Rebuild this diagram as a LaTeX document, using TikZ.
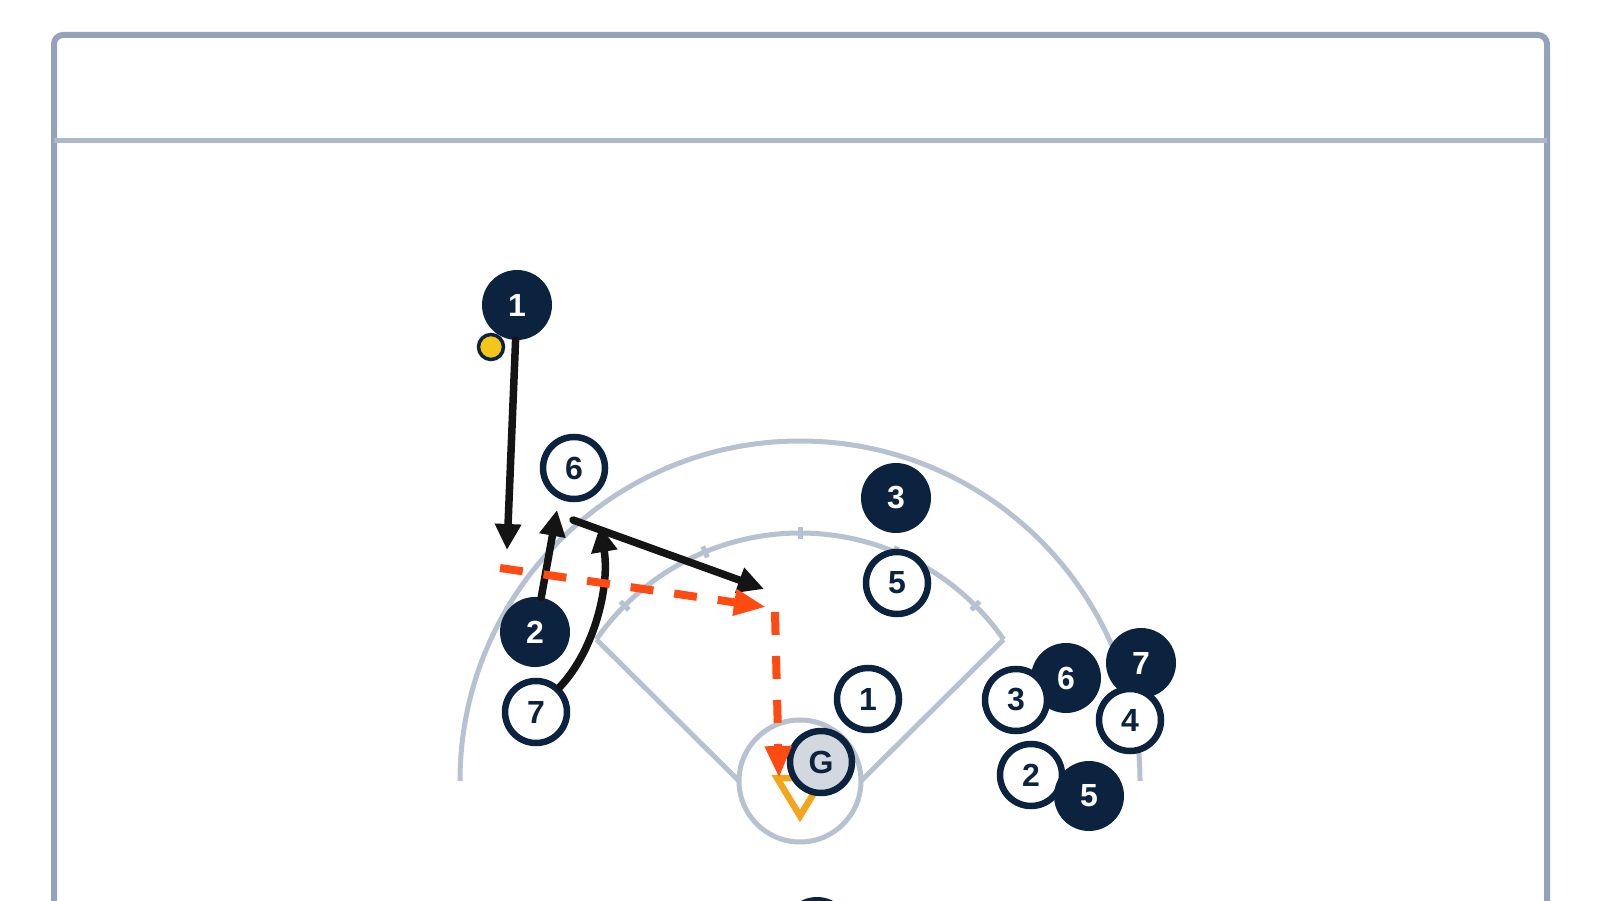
\documentclass[tikz,border=0pt]{standalone}
\usepackage{fontspec}
\setmainfont{Liberation Sans}
\usetikzlibrary{arrows.meta}
\definecolor{navy}{HTML}{0C2340}
\definecolor{framecol}{HTML}{94A3BA}
\definecolor{headcol}{HTML}{AAB8CB}
\definecolor{fieldcol}{HTML}{B6C2D2}
\definecolor{runorange}{HTML}{FF4A12}
\definecolor{platecol}{HTML}{F4A51C}
\definecolor{ballyellow}{HTML}{F5C518}
\definecolor{gfill}{HTML}{D3D7DE}
\definecolor{ink}{HTML}{141414}
\begin{document}
\begin{tikzpicture}[x=1pt,y=1pt,
  numfont/.style={font=\fontsize{32}{32}\selectfont\bfseries},
  dark/.style={circle,fill=navy,minimum size=70pt,inner sep=0pt,text=white,numfont},
  light/.style={circle,draw=navy,line width=6.5pt,fill=white,minimum size=62pt,inner sep=0pt,text=navy,numfont},
  goalie/.style={light,fill=gfill},
  move/.style={draw=ink,line width=7.5pt,line cap=round,-{Triangle[length=26pt,width=25pt]}},
  run/.style={draw=runorange,line width=8pt,dash pattern=on 23pt off 21pt,-{Triangle[length=32pt,width=25pt]}},
  fieldline/.style={draw=fieldcol,line width=5pt},
]
\useasboundingbox (0,0) rectangle (1600,900);
\clip (0,0) rectangle (1600,900);
\fill[white] (0,0) rectangle (1600,900);

% frame
\draw[framecol,line width=6pt,rounded corners=9pt] (54,-30) -- (54,865) -- (1547,865) -- (1547,-30);
\draw[headcol,line width=5pt] (54,759.5) -- (1547,759.5);

% field
\draw[fieldline] (460,119) arc[start angle=180,end angle=0,radius=340];
\draw[fieldline] (800,119) ++(145.2:248) arc[start angle=145.2,end angle=34.8,radius=248];
\draw[fieldline] (800,119) ++(145.2:248) -- (739,119);
\draw[fieldline] (800,119) ++(34.8:248) -- (861,119);
\foreach \a in {45,67.5,90,112.5,135}
  \draw[fieldline] (800,119) ++(\a:242) -- ++(\a:12);
\draw[fieldline] (800,119) circle[radius=61];
\draw[platecol,line width=6.5pt,line join=miter] (777,122) -- (823,122) -- (800,84) -- cycle;

% players
\node[dark] (d1) at (517,595) {1};
\node[dark] (d2) at (535,268) {2};
\node[dark] (d3) at (896,402) {3};
\node[dark] (d6) at (1066,222) {6};
\node[dark] (d7) at (1141,237) {7};
\node[light] (w6) at (574,432) {6};
\node[light] (w7) at (536,188) {7};
\node[light] (w5) at (897,317) {5};
\node[light] (w1) at (868,201) {1};
\node[light] (w3) at (1016,200) {3};
\node[light] (w4) at (1130,180) {4};
\node[light] (w2) at (1031,125) {2};
\node[dark] (d5) at (1089,104) {5};
\node[dark] (d8) at (817,-32) {};
\node[goalie] (g) at (821,138) {G};
\node[circle,draw=navy,line width=3.5pt,fill=ballyellow,minimum size=25pt,inner sep=0pt] (ball) at (491,553) {};

% movement
\coordinate (e1) at (507,350);
\coordinate (e2) at (557,390);
\coordinate (e3) at (600,374);
\coordinate (s4) at (573,380);
\coordinate (e4) at (764,311);
\coordinate (r1s) at (500,332);
\coordinate (r1e) at (766,293);
\coordinate (r2s) at (775,288);
\coordinate (r2e) at (779,122);

\draw[move] (d1) -- (e1);
\draw[move] (d2) -- (e2);
\draw[move] (w7) .. controls (595,250) and (610,315) .. (e3);
\draw[move] (s4) -- (e4);
\draw[run] (r1s) -- (r1e);
\draw[run] (r2s) -- (r2e);
\end{tikzpicture}
\end{document}
